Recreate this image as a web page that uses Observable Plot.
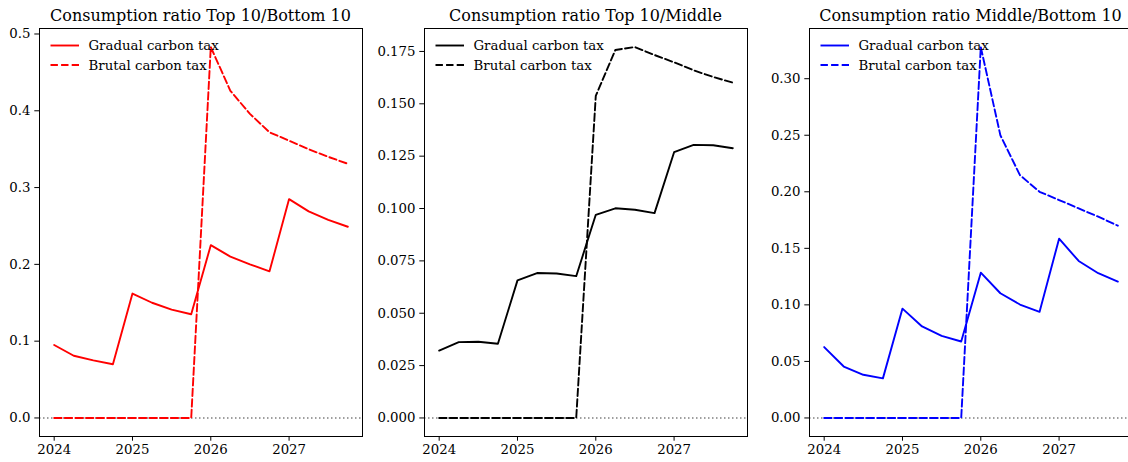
<!DOCTYPE html>
<html>
<head>
<meta charset="utf-8">
<script src="https://cdn.jsdelivr.net/npm/d3@7"></script>
<script src="https://cdn.jsdelivr.net/npm/@observablehq/plot@0.6"></script>
<style>
  html, body { margin: 0; padding: 0; background: #fff; overflow: hidden; width: 1128px; height: 462px; }
  .panel { position: absolute; top: 0; }
  .panel svg { max-width: none !important; display: block; }
  .panel svg text { font-family: "DejaVu Serif", serif !important; }
</style>
</head>
<body>
<div id="p1" class="panel"></div>
<div id="p2" class="panel"></div>
<div id="p3" class="panel"></div>
<script>
// Quarterly time steps
const quarters = [2024, 2024.25, 2024.5, 2024.75, 2025, 2025.25, 2025.5, 2025.75,
                  2026, 2026.25, 2026.5, 2026.75, 2027, 2027.25, 2027.5, 2027.75];
const xTicks = [2024, 2025, 2026, 2027];

// Top 10 / Bottom 10
const top10Bottom10Gradual = [0.095, 0.081, 0.075, 0.070, 0.162, 0.150, 0.141, 0.135,
                              0.225, 0.210, 0.200, 0.191, 0.285, 0.269, 0.258, 0.249];
const top10Bottom10Brutal  = [0, 0, 0, 0, 0, 0, 0, 0,
                              0.483, 0.426, 0.396, 0.372, 0.361, 0.350, 0.340, 0.331];
const top10Bottom10Ticks = [0, 0.1, 0.2, 0.3, 0.4, 0.5];

// Top 10 / Middle
const top10MiddleGradual = [0.0322, 0.0362, 0.0364, 0.0354, 0.0657, 0.0692, 0.0690, 0.0677,
                            0.0970, 0.1001, 0.0994, 0.0978, 0.1269, 0.1304, 0.1302, 0.1288];
const top10MiddleBrutal  = [0, 0, 0, 0, 0, 0, 0, 0,
                            0.1538, 0.1757, 0.1771, 0.1733, 0.1698, 0.1660, 0.1628, 0.1601];
const top10MiddleTicks = [0, 0.025, 0.05, 0.075, 0.1, 0.125, 0.15, 0.175];

// Middle / Bottom 10
const middleBottom10Gradual = [0.0627, 0.0455, 0.0382, 0.0350, 0.0967, 0.0809, 0.0726, 0.0676,
                               0.1285, 0.1103, 0.1003, 0.0938, 0.1585, 0.1388, 0.1280, 0.1206];
const middleBottom10Brutal  = [0, 0, 0, 0, 0, 0, 0, 0,
                               0.328, 0.250, 0.2147, 0.200, 0.1927, 0.1853, 0.1780, 0.1700];
const middleBottom10Ticks = [0, 0.05, 0.1, 0.15, 0.2, 0.25, 0.3];

const seriesNames = ["Gradual carbon tax", "Brutal carbon tax"];

const FONT = "DejaVu Serif";
const FRAME_W = 323;
const ML = 60, MR = 12, MT = 28, MB = 26, H = 462;
const DASH = "7.4,3.2";

// matplotlib-like 5% padding around the data range
function padded(values) {
  const lo = d3.min(values), hi = d3.max(values);
  const p = (hi - lo) * 0.05;
  return [lo - p, hi + p];
}

function panel(el, left, {title, gradual, brutal, color, yTicks, yFormat}) {
  const rows = quarters.map((q, i) => ({q, gradual: gradual[i], brutal: brutal[i]}));
  const W = ML + FRAME_W + MR;
  const svg = Plot.plot({
    width: W,
    height: H,
    marginLeft: ML, marginRight: MR, marginTop: MT, marginBottom: MB,
    style: {fontFamily: FONT, fontSize: "13.3px", color: "#000", background: "none", overflow: "visible"},
    x: {domain: padded(quarters)},
    y: {domain: padded([...gradual, ...brutal])},
    marks: [
      Plot.ruleY([0], {stroke: "#808080", strokeWidth: 1.5, strokeDasharray: "1.5,2.5"}),
      Plot.line(rows, {x: "q", y: "gradual", stroke: color, strokeWidth: 1.9}),
      Plot.line(rows, {x: "q", y: "brutal", stroke: color, strokeWidth: 1.9, strokeDasharray: DASH}),
      Plot.frame({stroke: "#000", strokeWidth: 1}),
      Plot.axisX({ticks: xTicks, tickFormat: d => String(d), tickSize: 4.7, tickPadding: 3.5,
                  label: null, fontSize: 13.3, fontFamily: FONT}),
      Plot.axisY({ticks: yTicks, tickFormat: yFormat, tickSize: 4.7, tickPadding: 4.3,
                  label: null, fontSize: 13.3, fontFamily: FONT})
    ]
  });

  const g = d3.select(svg).append("g").attr("font-family", FONT).attr("text-anchor", "start");
  // title
  g.append("text")
    .attr("x", ML + FRAME_W / 2).attr("y", MT - 7.5)
    .attr("text-anchor", "middle").attr("font-size", 16).attr("fill", "#000")
    .text(title);
  // legend
  const lx = ML + 11.5, ly = MT + 17.5, rowH = 19.5;
  seriesNames.forEach((name, i) => {
    const y = ly + i * rowH;
    g.append("line")
      .attr("x1", lx).attr("x2", lx + 28.5).attr("y1", y).attr("y2", y)
      .attr("stroke", color).attr("stroke-width", 1.9)
      .attr("stroke-dasharray", i === 1 ? DASH : null);
    g.append("text")
      .attr("x", lx + 38).attr("y", y).attr("dy", "0.35em")
      .attr("text-anchor", "start")
      .attr("font-size", 13.3).attr("fill", "#000")
      .text(name);
  });

  el.style.left = (left - ML) + "px";
  el.style.width = W + "px";
  el.appendChild(svg);
}

panel(document.getElementById("p1"), 39, {
  title: "Consumption ratio Top 10/Bottom 10",
  gradual: top10Bottom10Gradual, brutal: top10Bottom10Brutal, color: "#ff0000",
  yTicks: top10Bottom10Ticks, yFormat: d3.format(".1f")
});
panel(document.getElementById("p2"), 423.7, {
  title: "Consumption ratio Top 10/Middle",
  gradual: top10MiddleGradual, brutal: top10MiddleBrutal, color: "#000000",
  yTicks: top10MiddleTicks, yFormat: d3.format(".3f")
});
panel(document.getElementById("p3"), 808.7, {
  title: "Consumption ratio Middle/Bottom 10",
  gradual: middleBottom10Gradual, brutal: middleBottom10Brutal, color: "#0000ff",
  yTicks: middleBottom10Ticks, yFormat: d3.format(".2f")
});
</script>
</body>
</html>
